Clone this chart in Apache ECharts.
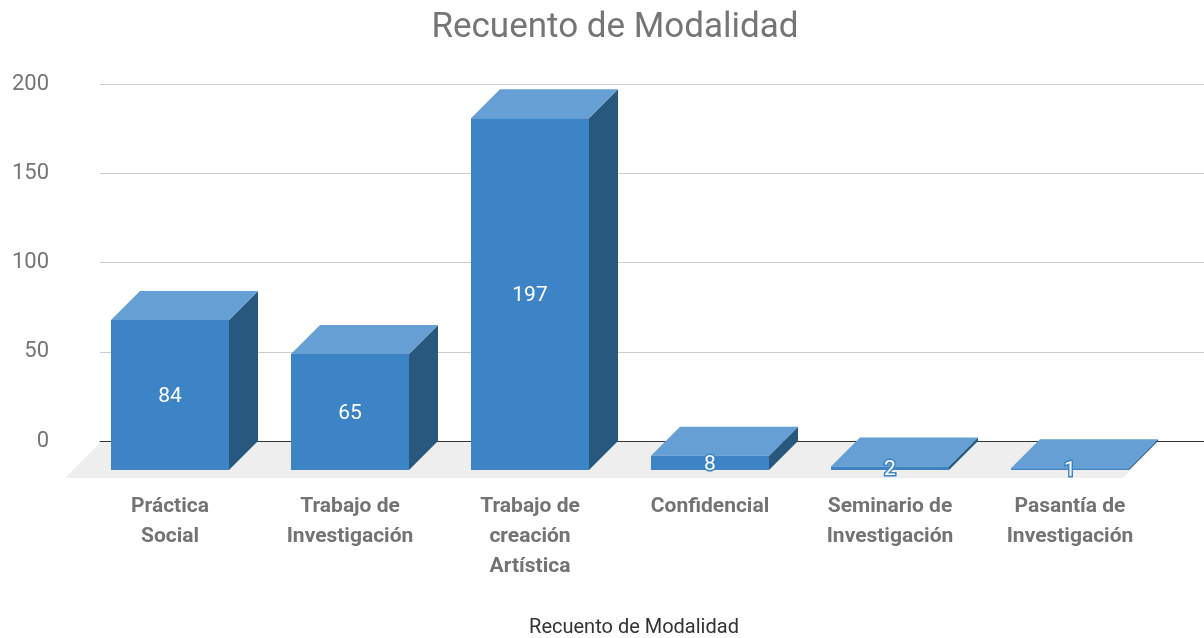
<!DOCTYPE html>
<html>
<head>
<meta charset="utf-8">
<script src="https://cdn.jsdelivr.net/npm/echarts@6/dist/echarts.min.js"></script>
<style>html,body{margin:0;padding:0;background:#fff}#c{width:1204px;height:638px}</style>
</head>
<body>
<div id="c"></div>
<script>
const chartTitle = 'Recuento de Modalidad';
const axisTitle = 'Recuento de Modalidad';
const categories = ['Práctica\nSocial', 'Trabajo de\nInvestigación', 'Trabajo de\ncreación\nArtística', 'Confidencial', 'Seminario de\nInvestigación', 'Pasantía de\nInvestigación'];
const counts = [84, 65, 197, 8, 2, 1];
const yTicks = [0, 50, 100, 150, 200];

const FONT = 'Roboto, "Noto Sans", sans-serif';
const DEPTH = 29;
const COL_FRONT = '#3d84c6';
const COL_TOP = '#659fd3';
const COL_SIDE = '#29587f';

const chart = echarts.init(document.getElementById('c'), null, {renderer: 'canvas'});

function renderBar(params, api) {
  const i = api.value(0);
  const v = api.value(1);
  const base = api.coord([i, 0]);
  const top = api.coord([i, v]);
  const w = api.size([1, 0])[0] * 118 / 180;
  const xl = base[0] - w / 2, xr = base[0] + w / 2;
  const yb = base[1], yt = top[1];
  const d = DEPTH;
  return {
    type: 'group',
    children: [
      {type: 'polygon', shape: {points: [[xr, yt], [xr + d, yt - d], [xr + d, yb - d], [xr, yb]]}, style: {fill: COL_SIDE}},
      {type: 'polygon', shape: {points: [[xl, yt], [xr, yt], [xr + d, yt - d], [xl + d, yt - d]]}, style: {fill: COL_TOP}},
      {type: 'rect', shape: {x: xl, y: yt, width: w, height: yb - yt}, style: {fill: COL_FRONT}},
      {type: 'text', z2: 10, style: {text: String(v), x: base[0], y: (yt + yb) / 2 + 2, align: 'center', verticalAlign: 'middle',
        fill: '#ffffff', stroke: COL_FRONT, lineWidth: 3, font: '21px ' + FONT}}
    ]
  };
}

function renderFloor(params, api) {
  const cs = params.coordSys;
  const y0 = api.coord([0, 0])[1];
  const fl = [cs.x - 15, y0 + 8];
  const fr = [cs.x + cs.width - 37, y0 + 8];
  const off = 37;
  return {
    type: 'polygon',
    shape: {points: [fl, fr, [fr[0] + off, fr[1] - off], [fl[0] + off, fl[1] - off]]},
    style: {fill: '#eeeeee'}
  };
}

const option = {
  backgroundColor: '#ffffff',
  animation: false,
  title: {
    text: chartTitle, left: 610, top: 6, textAlign: 'center',
    textStyle: {fontFamily: FONT, fontSize: 35, fontWeight: 'normal', color: '#757575'}
  },
  grid: [
    {left: 100, right: 0, top: 84, height: 357, containLabel: false, outerBoundsMode: 'none'},
    {left: 80, width: 1080, top: 113, height: 357, containLabel: false, outerBoundsMode: 'none'}
  ],
  xAxis: [
    {gridIndex: 0, type: 'value', min: 0, max: 1, z: 0, axisLabel: {show: false}, axisTick: {show: false}, splitLine: {show: false},
      axisLine: {show: true, lineStyle: {color: '#333333', width: 1}}},
    {gridIndex: 1, type: 'category', data: categories, axisLine: {show: false}, axisTick: {show: false},
      axisLabel: {interval: 0, margin: 22, fontFamily: FONT, fontSize: 21, fontWeight: 'bold', color: '#737373', lineHeight: 30},
      name: axisTitle, nameLocation: 'middle', nameGap: 148,
      nameTextStyle: {fontFamily: FONT, fontSize: 20, color: '#333333', padding: [0, 0, 0, 28]}}
  ],
  yAxis: [
    {gridIndex: 0, type: 'value', min: yTicks[0], max: yTicks[yTicks.length - 1], interval: 50,
      axisLine: {show: false}, axisTick: {show: false},
      axisLabel: {margin: 51, fontFamily: FONT, fontSize: 22, color: '#757575'},
      splitLine: {show: true, lineStyle: {color: '#cccccc', width: 1}}},
    {gridIndex: 1, type: 'value', min: yTicks[0], max: yTicks[yTicks.length - 1], interval: 50, show: false,
      splitLine: {show: false}}
  ],
  series: [
    {type: 'custom', xAxisIndex: 1, yAxisIndex: 1, z: -1, silent: true, renderItem: renderFloor, data: [[0, 0]]},
    {type: 'custom', xAxisIndex: 1, yAxisIndex: 1, z: 3, renderItem: renderBar,
      encode: {x: 0, y: 1}, data: counts.map((v, i) => [i, v])}
  ]
};
chart.setOption(option);
</script>
</body>
</html>
